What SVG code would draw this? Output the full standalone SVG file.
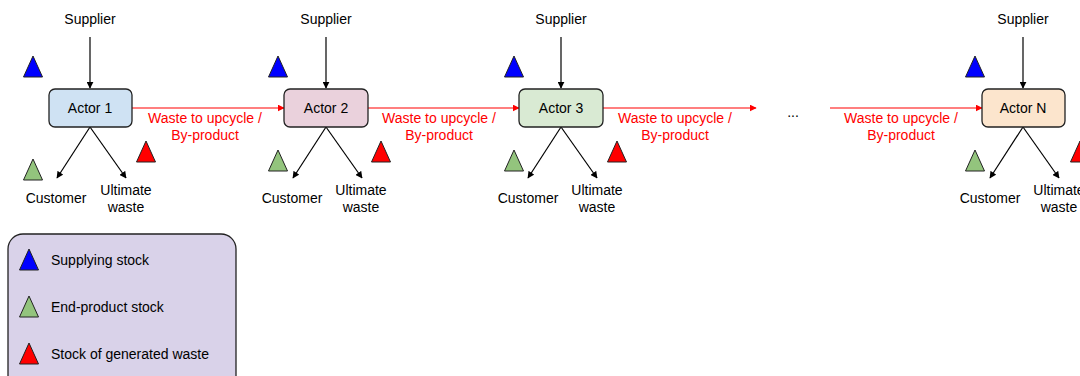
<svg xmlns="http://www.w3.org/2000/svg" width="1080" height="376" viewBox="0 0 1080 376">
<style>
text{font-family:"Liberation Sans",Arial,sans-serif;font-size:14px;fill:#000;text-anchor:middle}
.red{fill:#ff0000}
.lt{text-anchor:start}
.box{stroke:#222;stroke-width:1.3}
.tri{stroke:#222;stroke-width:1}
.b{fill:#0000ff}.g{fill:#93c47d}.r{fill:#ff0000}
.k{stroke:#000;stroke-width:1.2;fill:none}
.rl{stroke:#ff0000;stroke-width:1.2;fill:none}
</style>
<defs>
<marker id="ak" viewBox="0 0 10 10" refX="9" refY="5" markerWidth="7" markerHeight="7" orient="auto" markerUnits="userSpaceOnUse"><path d="M0,0 L10,5 L0,10 z" fill="#000"/></marker>
<marker id="ar" viewBox="0 0 10 10" refX="9" refY="5" markerWidth="7" markerHeight="7" orient="auto" markerUnits="userSpaceOnUse"><path d="M0,0 L10,5 L0,10 z" fill="#ff0000"/></marker>
<polygon id="t" points="0,0 -9.5,21 9.5,21"/>
</defs>
<g id="connectors">
<line class="k" x1="90" y1="37" x2="90" y2="88" marker-end="url(#ak)"/>
<line class="k" x1="90" y1="127" x2="57" y2="178" marker-end="url(#ak)"/>
<line class="k" x1="90" y1="127" x2="126" y2="178" marker-end="url(#ak)"/>
<line class="k" x1="326" y1="37" x2="326" y2="88" marker-end="url(#ak)"/>
<line class="k" x1="326" y1="127" x2="293" y2="178" marker-end="url(#ak)"/>
<line class="k" x1="326" y1="127" x2="362" y2="178" marker-end="url(#ak)"/>
<line class="k" x1="561" y1="37" x2="561" y2="88" marker-end="url(#ak)"/>
<line class="k" x1="561" y1="127" x2="528" y2="178" marker-end="url(#ak)"/>
<line class="k" x1="561" y1="127" x2="597" y2="178" marker-end="url(#ak)"/>
<line class="k" x1="1023" y1="37" x2="1023" y2="88" marker-end="url(#ak)"/>
<line class="k" x1="1023" y1="127" x2="990" y2="178" marker-end="url(#ak)"/>
<line class="k" x1="1023" y1="127" x2="1059" y2="178" marker-end="url(#ak)"/>
<line class="rl" x1="132" y1="108" x2="284" y2="108" marker-end="url(#ar)"/>
<line class="rl" x1="368" y1="108" x2="519" y2="108" marker-end="url(#ar)"/>
<line class="rl" x1="603" y1="108" x2="756" y2="108" marker-end="url(#ar)"/>
<line class="rl" x1="830" y1="108" x2="982" y2="108" marker-end="url(#ar)"/>
<text class="red" x="205" y="123">Waste to upcycle /</text>
<text class="red" x="205" y="140">By-product</text>
<text class="red" x="439" y="123">Waste to upcycle /</text>
<text class="red" x="439" y="140">By-product</text>
<text class="red" x="675" y="123">Waste to upcycle /</text>
<text class="red" x="675" y="140">By-product</text>
<text class="red" x="901" y="123">Waste to upcycle /</text>
<text class="red" x="901" y="140">By-product</text>
</g>
<g id="actor1">
<text x="90" y="24">Supplier</text>
<rect class="box" x="49" y="89" width="83" height="38" rx="6" fill="#cfe2f3"/>
<text x="90" y="113">Actor 1</text>
<use href="#t" x="33" y="56" class="tri b"/>
<use href="#t" x="33" y="159" class="tri g"/>
<use href="#t" x="146" y="141" class="tri r"/>
<text x="56" y="203">Customer</text>
<text x="126" y="195">Ultimate</text>
<text x="126" y="212">waste</text>
</g>
<g id="actor2">
<text x="326" y="24">Supplier</text>
<rect class="box" x="284" y="89" width="84" height="38" rx="6" fill="#ead1dc"/>
<text x="326" y="113">Actor 2</text>
<use href="#t" x="278" y="56" class="tri b"/>
<use href="#t" x="278" y="150" class="tri g"/>
<use href="#t" x="381" y="141" class="tri r"/>
<text x="292" y="203">Customer</text>
<text x="361" y="195">Ultimate</text>
<text x="361" y="212">waste</text>
</g>
<g id="actor3">
<text x="561" y="24">Supplier</text>
<rect class="box" x="519" y="89" width="84" height="38" rx="6" fill="#d9ead3"/>
<text x="561" y="113">Actor 3</text>
<use href="#t" x="514" y="56" class="tri b"/>
<use href="#t" x="514" y="150" class="tri g"/>
<use href="#t" x="617" y="141" class="tri r"/>
<text x="528" y="203">Customer</text>
<text x="597" y="195">Ultimate</text>
<text x="597" y="212">waste</text>
</g>
<g id="ellipsis"><text x="793" y="117">...</text></g>
<g id="actorN">
<text x="1023" y="24">Supplier</text>
<rect class="box" x="982" y="89" width="83" height="38" rx="6" fill="#fce5cd"/>
<text x="1023" y="113">Actor N</text>
<use href="#t" x="975" y="56" class="tri b"/>
<use href="#t" x="975" y="150" class="tri g"/>
<use href="#t" x="1080" y="141" class="tri r"/>
<text x="990" y="203">Customer</text>
<text x="1059" y="195">Ultimate</text>
<text x="1059" y="212">waste</text>
</g>
<g id="legend">
<rect class="box" x="8" y="234" width="228" height="160" rx="15" fill="#d9d2e9"/>
<use href="#t" x="29" y="249" class="tri b"/>
<text class="lt" x="51" y="265">Supplying stock</text>
<use href="#t" x="29" y="296" class="tri g"/>
<text class="lt" x="51" y="312">End-product stock</text>
<use href="#t" x="29" y="343" class="tri r"/>
<text class="lt" x="51" y="359">Stock of generated waste</text>
</g>
</svg>
